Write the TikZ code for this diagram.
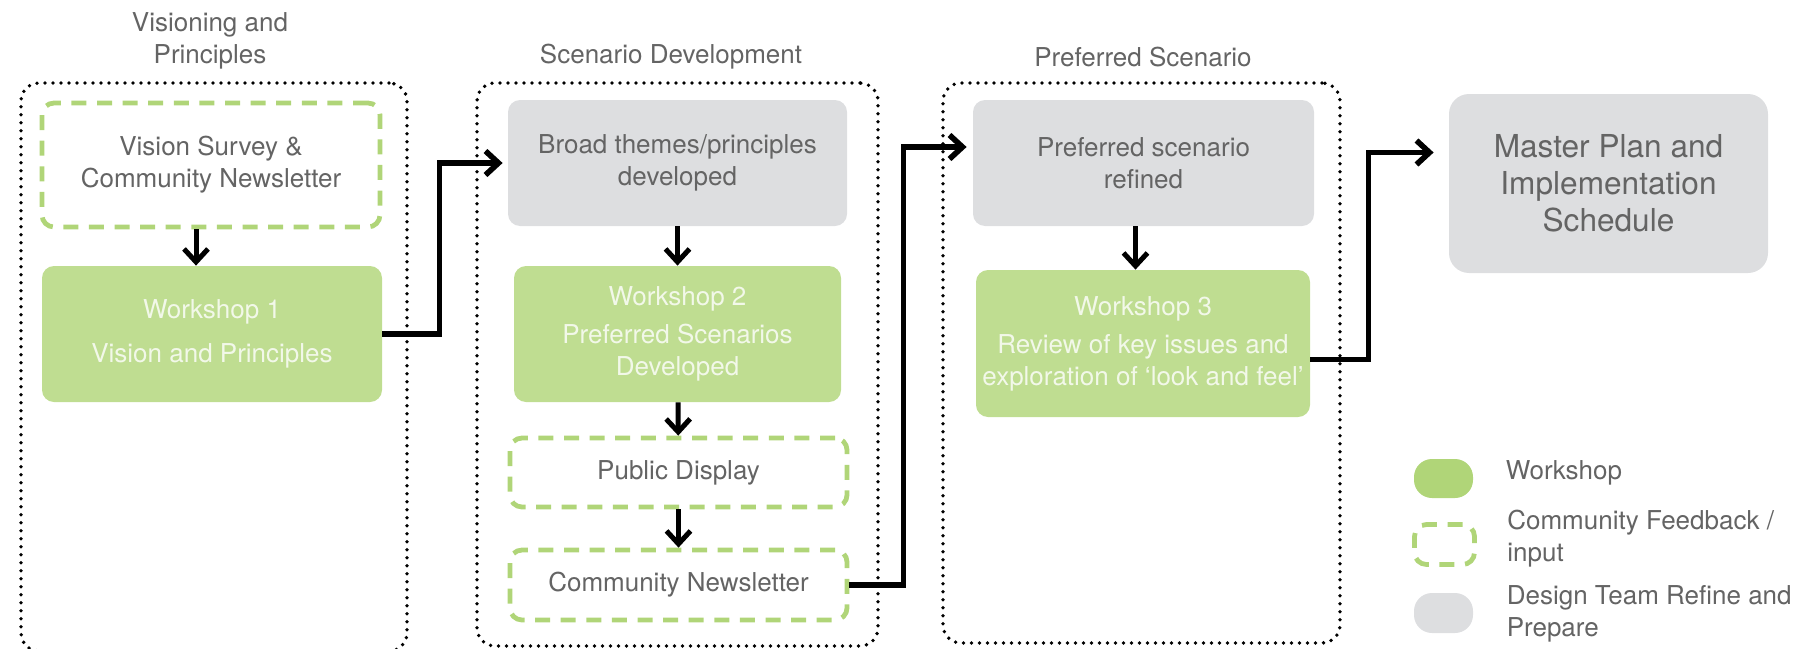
\documentclass[tikz,border=0pt]{standalone}
\usepackage{fontspec}
\setmainfont{TeX Gyre Heros}
\usetikzlibrary{arrows.meta,positioning}

\definecolor{wsgreen}{RGB}{191,221,145}
\definecolor{fbgreen}{RGB}{176,213,120}
\definecolor{teamgray}{RGB}{221,222,224}
\definecolor{txtgray}{RGB}{100,100,100}
\definecolor{wstext}{RGB}{242,248,233}

\newcommand{\bodyfont}{\fontsize{13}{16}\selectfont}

\tikzset{
  panel/.style={draw, line width=1.9pt, dash pattern=on 0pt off 4pt, line cap=round,
    rounded corners=9pt, inner sep=0pt},
  heading/.style={text=txtgray, align=center, font=\bodyfont},
  workshop/.style={fill=wsgreen, rounded corners=6pt, text=wstext, align=center,
    inner sep=0pt, font=\bodyfont},
  feedback/.style={draw=fbgreen, line width=2.4pt, dash pattern=on 7.5pt off 5.3pt,
    rounded corners=6pt, text=txtgray, align=center, inner sep=0pt, font=\bodyfont},
  refine/.style={fill=teamgray, rounded corners=6pt, text=txtgray, align=center,
    inner sep=0pt, font=\bodyfont},
  flow/.style={-{Straight Barb[length=6.5pt,width=12pt]}, line width=2.5pt},
  link/.style={flow, line width=2.8pt},
  legtext/.style={text=txtgray, align=left, inner sep=0pt, font=\bodyfont}
}

\begin{document}
\begin{tikzpicture}[x=0.5pt, y=-0.5pt]
  \useasboundingbox (0,0) rectangle (1799,648);

  % phases
  \node[panel, minimum width=193pt, minimum height=284pt] (visphase) at (214,367) {};
  \node[panel, minimum width=200.5pt, minimum height=281.5pt] (scnphase) at (677.5,364.5) {};
  \node[panel, minimum width=198.5pt, minimum height=280pt] (prefphase) at (1141.5,363) {};

  \node[heading] (vistitle) at (210,41) {Visioning and\\Principles};
  \node[heading] (scntitle) at (671,57) {Scenario Development};
  \node[heading] (preftitle) at (1143,57) {Preferred Scenario};

  % steps
  \node[feedback, minimum width=169pt, minimum height=62pt] (vsurvey) at (211,165)
    {Vision Survey \&\\Community Newsletter};
  \node[workshop, minimum width=170pt, minimum height=68pt] (ws1) at (212,334)
    {\raisebox{-3pt}{Workshop 1}\\[6pt]\raisebox{-3pt}{Vision and Principles}};

  \node[refine, minimum width=169.5pt, minimum height=63pt] (broad) at (677.5,163)
    {Broad themes/principles\\developed};
  \node[workshop, minimum width=163.5pt, minimum height=68pt] (ws2) at (677.5,334)
    {Workshop 2\\[3pt]Preferred Scenarios\\Developed};
  \node[feedback, minimum width=168.5pt, minimum height=34.5pt] (pubdisp) at (678.5,472.5)
    {Public Display};
  \node[feedback, minimum width=168.5pt, minimum height=35pt] (cnews) at (678.5,585)
    {Community Newsletter};

  \node[refine, minimum width=170.5pt, minimum height=63pt] (prefref) at (1143.5,163)
    {Preferred scenario\\refined};
  \node[workshop, minimum width=167pt, minimum height=73.5pt] (ws3) at (1143,343.5)
    {Workshop 3\\[3pt]Review of key issues and\\exploration of ‘look and feel’};

  \node[refine, rounded corners=10pt, minimum width=159.5pt, minimum height=89.5pt,
    font=\fontsize{15.8}{18.5}\selectfont] (master) at (1608.5,183.5)
    {Master Plan and\\Implementation\\Schedule};

  % legend
  \node[fill=fbgreen, rounded corners=9pt, minimum width=29.5pt, minimum height=19.5pt] (lws) at (1443.5,478.5) {};
  \node[feedback, minimum width=30pt, minimum height=20pt] (lfb) at (1444.5,544.5) {};
  \node[fill=teamgray, rounded corners=9pt, minimum width=29.5pt, minimum height=20pt] (lgr) at (1443.5,613) {};
  \node[legtext, right=16pt of lws, yshift=3pt] (lwstext) {Workshop};
  \node[legtext, right=15pt of lfb, yshift=2.75pt] (lfbtext) {Community Feedback /\\input};
  \node[legtext, right=16.5pt of lgr, yshift=-0.5pt] (lgrtext) {Design Team Refine and\\Prepare};

  % arrows
  \draw[flow] ([xshift=-7.5pt]vsurvey.south) -- ([xshift=-7.5pt]vsurvey.south |- ws1.north);
  \draw[flow] (broad) -- (ws2);
  \draw[flow] (ws2) -- (pubdisp);
  \draw[flow] (pubdisp) -- (cnews);
  \draw[flow] ([xshift=-4pt]prefref.south) -- ([xshift=-4pt]prefref.south |- ws3.north);

  \draw[link] (ws1.east) -- ++(57,0) |- ([xshift=-2.5pt]broad.west);
  \draw[link] (cnews.east) -- ++(54,0) |- ([xshift=-3pt,yshift=8pt]prefref.west);
  \draw[link] ([yshift=-8pt]ws3.east) -- ++(58,0) |- ([xshift=-7.5pt,yshift=15.5pt]master.west);
\end{tikzpicture}
\end{document}
